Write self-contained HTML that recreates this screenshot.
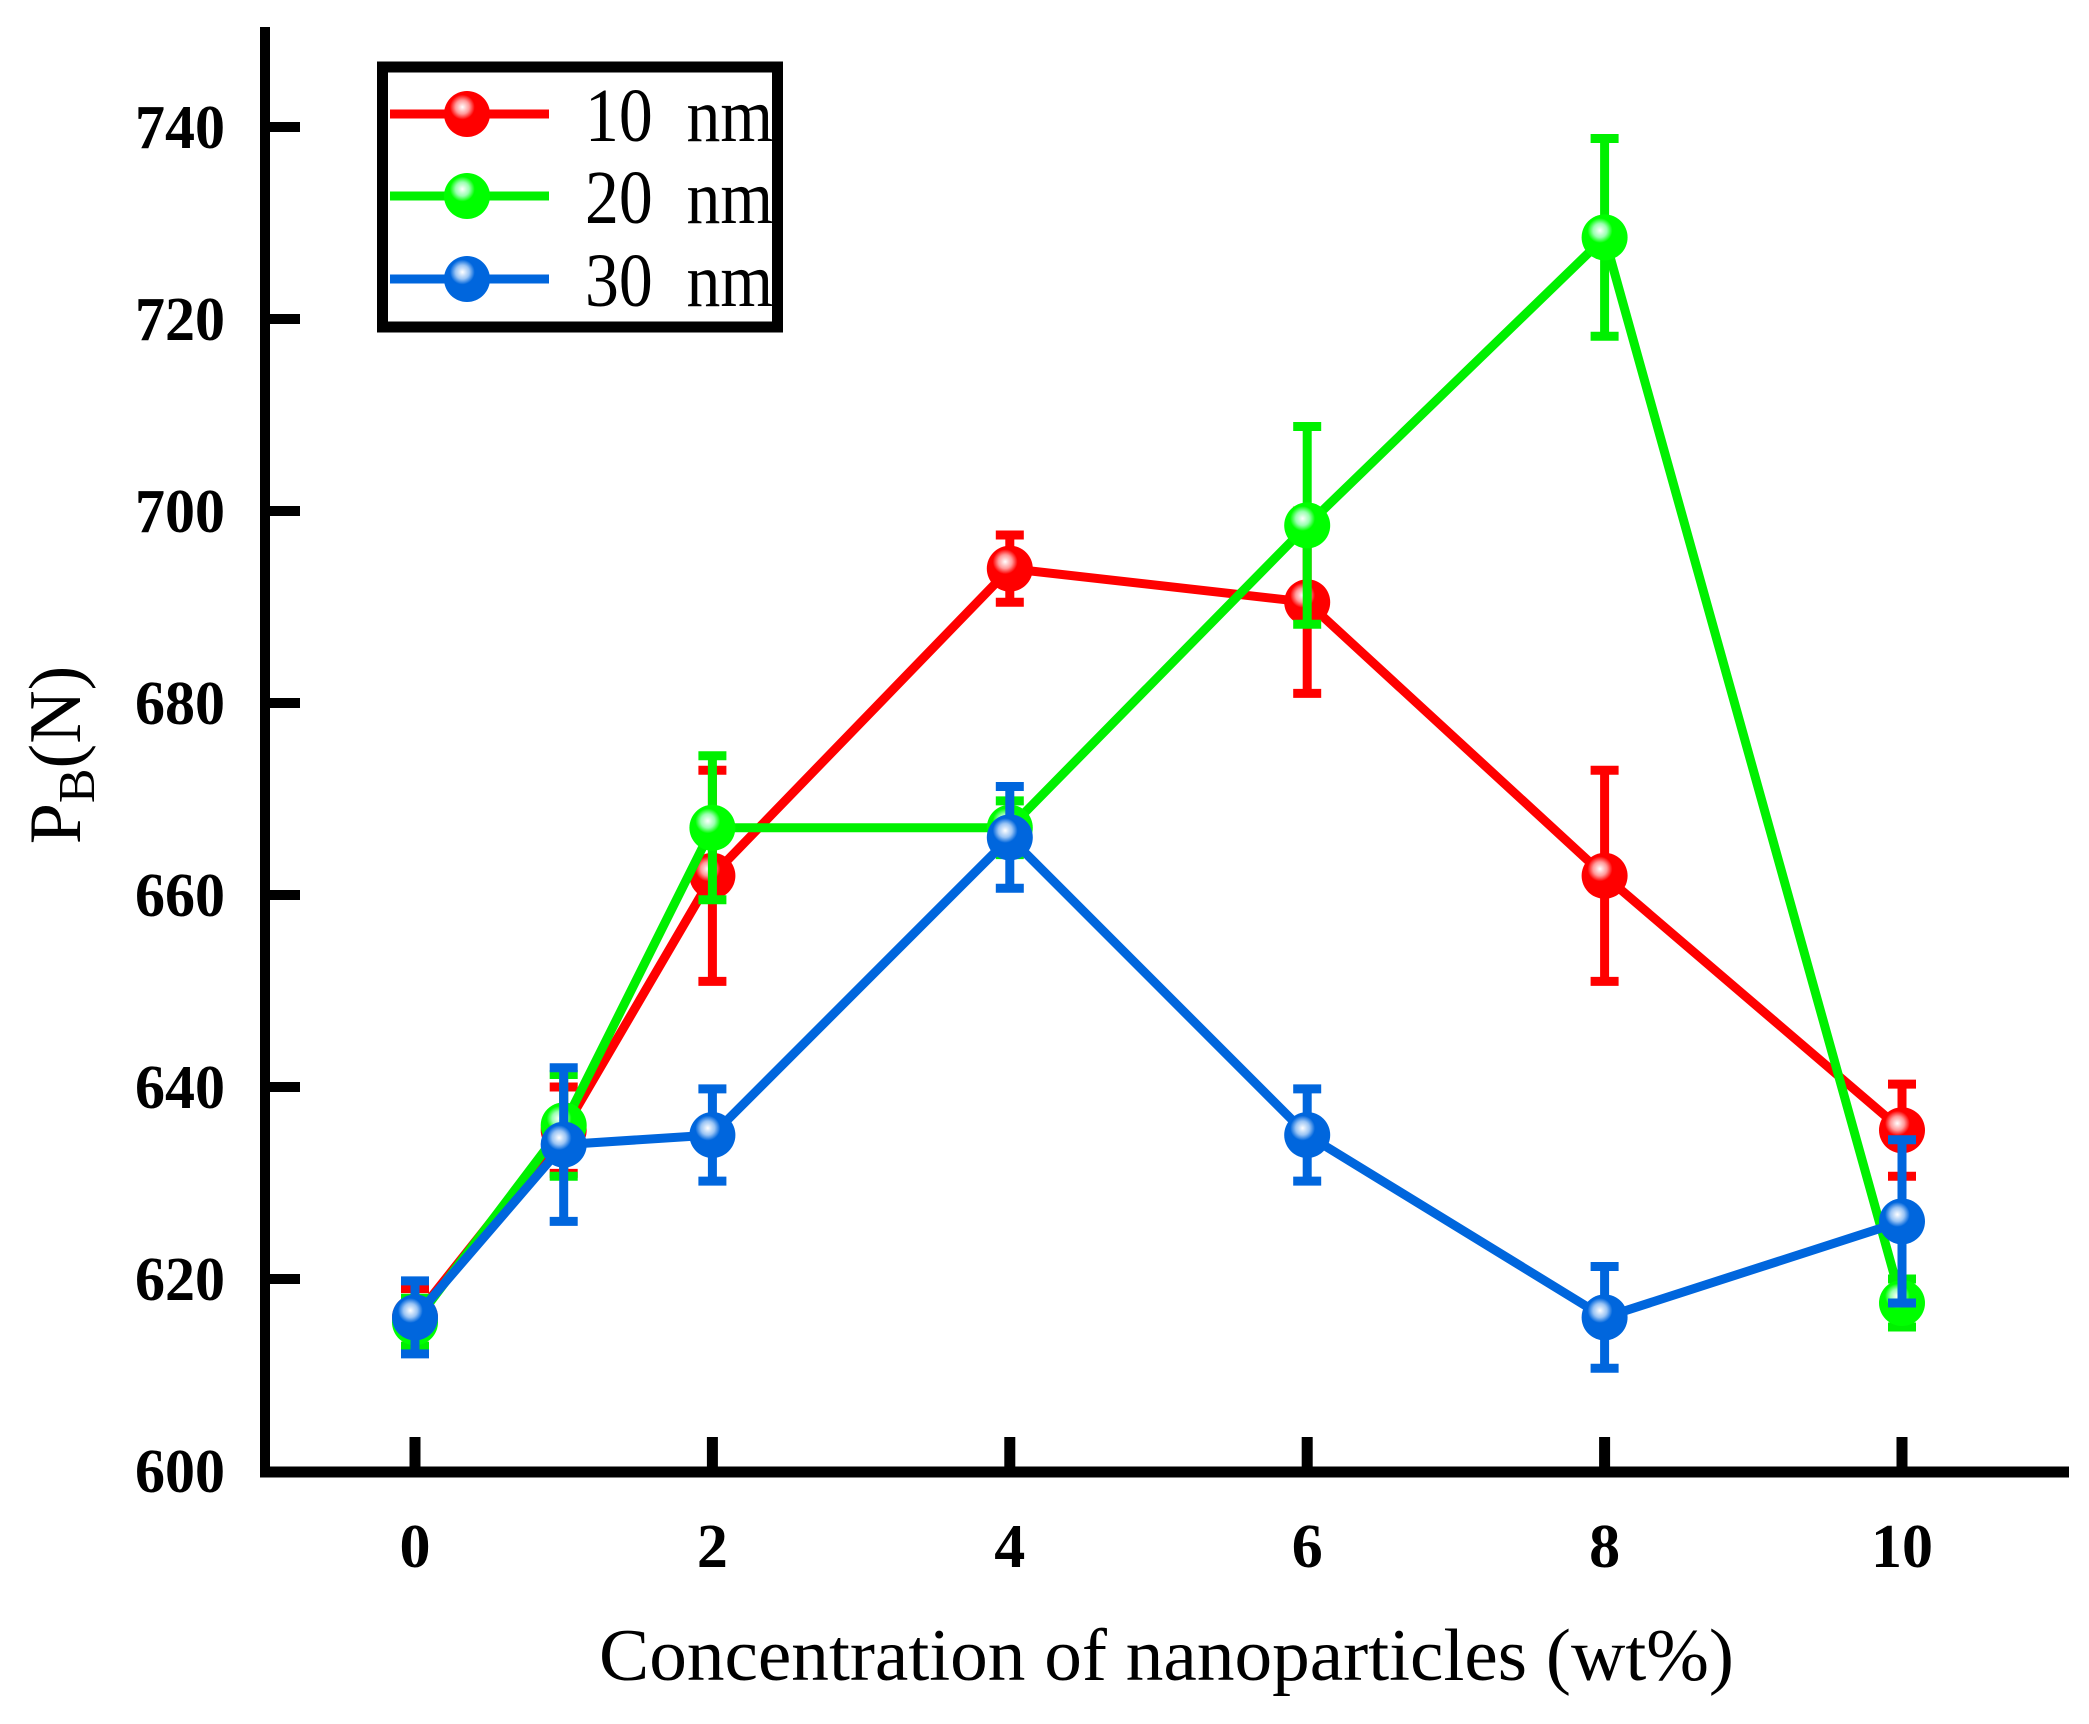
<!DOCTYPE html>
<html><head><meta charset="utf-8"><style>
html,body{margin:0;padding:0;background:#fff}
svg{display:block}
text{font-family:"Liberation Serif",serif}
</style></head><body>
<svg id="chart" width="2089" height="1724" viewBox="0 0 2089 1724" xmlns="http://www.w3.org/2000/svg">
<defs>
<radialGradient id="gr" cx="0.4" cy="0.35" r="0.6"><stop offset="0" stop-color="#fff"/><stop offset="0.25" stop-color="#ff9a9a"/><stop offset="0.45" stop-color="#ff0000"/></radialGradient>
<radialGradient id="gg" cx="0.4" cy="0.35" r="0.6"><stop offset="0" stop-color="#fff"/><stop offset="0.25" stop-color="#9affb0"/><stop offset="0.45" stop-color="#00ff00"/></radialGradient>
<radialGradient id="gb" cx="0.4" cy="0.35" r="0.6"><stop offset="0" stop-color="#fff"/><stop offset="0.25" stop-color="#9ac4f4"/><stop offset="0.45" stop-color="#0066dd"/></radialGradient>
</defs>
<g id="axes"></g>
<g id="series"></g>
<g id="legend">
<rect x="382.5" y="67" width="395" height="260" fill="#fff" stroke="#000" stroke-width="11"/>
</g>
<text x="80" y="755" font-size="74" text-anchor="middle" transform="rotate(-90 80 755)">P<tspan font-size="52" dy="14">B</tspan><tspan dy="-14">(N)</tspan></text>
<text x="599" y="1680" font-size="74" textLength="1135" lengthAdjust="spacingAndGlyphs">Concentration of nanoparticles (wt%)</text>
</svg>
<script>
const xCats = [0, 1, 2, 4, 6, 8, 10];
const xTicks = [0, 2, 4, 6, 8, 10];
const yTicks = [600, 620, 640, 660, 680, 700, 720, 740];
const seriesNames = ["10  nm", "20  nm", "30  nm"];
const red = [616, 635.5, 662, 694, 690.5, 662, 635.5];
const redErr = [3, 4.5, 11, 3.5, 9.5, 11, 4.8];
const green = [615.5, 636, 667, 667, 698.5, 728.5, 617.5];
const greenErr = [2.5, 5.3, 7.5, 2.8, 10.3, 10.3, 2.5];
const blue = [616, 634, 635, 666, 635, 616, 626];
const blueErr = [3.8, 8, 4.8, 5.3, 4.8, 5.3, 8.5];

const NS = "http://www.w3.org/2000/svg";
const xS = v => 415 + v * 148.7;
const yS = v => 1471 - (v - 600) * 9.6;
function mk(tag, attrs, parent) {
  const e = document.createElementNS(NS, tag);
  for (const k in attrs) e.setAttribute(k, attrs[k]);
  parent.appendChild(e);
  return e;
}
const axes = document.getElementById('axes');
let el;
el = mk('line', {x1: 265, y1: 27, x2: 265, y2: 1477, stroke: '#000', 'stroke-width': 10}, axes);


el = mk('line', {x1: 260, y1: 1472, x2: 2069, y2: 1472, stroke: '#000', 'stroke-width': 11}, axes);


yTicks.forEach(t => {
  const y = yS(t);
  if (t > 600) {
    el = mk('line', {x1: 265, y1: y, x2: 300, y2: y, stroke: '#000', 'stroke-width': 10}, axes);
    
    
  }
  el = mk('text', {x: 225, y: y + 21, 'font-size': 62, 'font-weight': 'bold', 'text-anchor': 'end', textLength: 90, lengthAdjust: 'spacingAndGlyphs'}, axes);
  el.textContent = t;
  
  
});
xTicks.forEach(t => {
  const x = xS(t);
  el = mk('line', {x1: x, y1: 1437, x2: x, y2: 1472, stroke: '#000', 'stroke-width': 11}, axes);
  
  
  el = mk('text', {x: x, y: 1567, 'font-size': 62, 'font-weight': 'bold', 'text-anchor': 'middle'}, axes);
  el.textContent = t;
  
  
});
const seriesLayer = document.getElementById('series');
const defs = [
  {vals: red, err: redErr, color: '#ff0000', grad: 'url(#gr)', key: 'red'},
  {vals: green, err: greenErr, color: '#00f000', grad: 'url(#gg)', key: 'green'},
  {vals: blue, err: blueErr, color: '#0066dd', grad: 'url(#gb)', key: 'blue'}
];
defs.forEach((s, si) => {
  const g = mk('g', {}, seriesLayer);
  
  
  const pts = s.vals.map((v, i) => xS(xCats[i]) + ',' + yS(v)).join(' ');
  el = mk('polyline', {points: pts, fill: 'none', stroke: s.color, 'stroke-width': 9, 'stroke-linejoin': 'round'}, g);
  
  
  s.vals.forEach((v, i) => {
    const x = xS(xCats[i]), y1 = yS(v + s.err[i]), y2 = yS(v - s.err[i]);
    el = mk('path', {d: `M${x},${y1}V${y2}M${x-14},${y1}H${x+14}M${x-14},${y2}H${x+14}`, stroke: s.color, 'stroke-width': 9, fill: 'none'}, g);
    
    
  });
  s.vals.forEach((v, i) => {
    el = mk('circle', {cx: xS(xCats[i]), cy: yS(v), r: 23, fill: s.grad}, g);
    
    
  });
  const legend = document.getElementById('legend');
  const ly = [114, 196, 279][si];
  const lg = mk('g', {}, legend);
  
  
  mk('line', {x1: 390, y1: ly, x2: 549, y2: ly, stroke: s.color, 'stroke-width': 9}, lg);
  mk('circle', {cx: 467, cy: ly, r: 23, fill: s.grad}, lg);
  el = mk('text', {x: 585, y: ly + 27, 'font-size': 76, textLength: 188, lengthAdjust: 'spacingAndGlyphs'}, lg);
  el.textContent = seriesNames[si];
  el.setAttribute('xml:space', 'preserve');
  el.style.whiteSpace = 'pre';
});
</script>
</body></html>
